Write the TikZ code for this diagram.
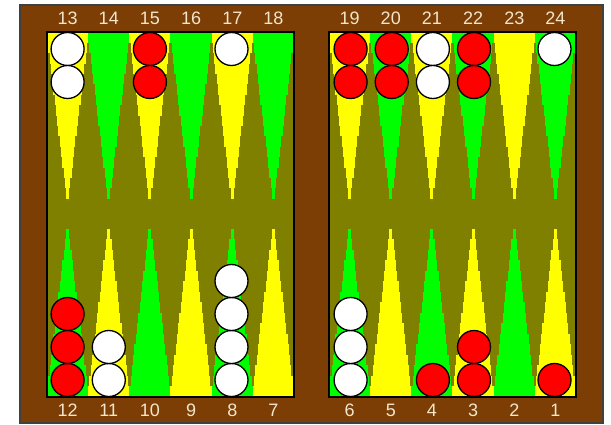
\documentclass[tikz,border=0pt]{standalone}
\usepackage{fontspec}
\setmainfont{Liberation Sans}
\definecolor{brd}{RGB}{124,62,4}
\definecolor{felt}{RGB}{128,128,0}
\definecolor{ptyel}{RGB}{255,255,0}
\definecolor{ptgrn}{RGB}{0,255,0}
\definecolor{chred}{RGB}{255,0,0}
\definecolor{lblc}{RGB}{242,230,205}
\tikzset{
  chk/.style={circle, minimum size=33pt, inner sep=0pt, draw=black, line width=1.3pt},
  wchk/.style={chk, fill=white},
  rchk/.style={chk, fill=chred},
  lbl/.style={text=lblc, font=\fontsize{18}{18}\selectfont, inner sep=0pt, anchor=center},
}
% stepped triangle: #1 centre x, #2 base y, #3 direction (+1 down, -1 up), #4 colour, #5 step height
\newcommand{\bgtri}[5]{%
  \foreach \k in {0,...,15}{%
    \pgfmathsetmacro\w{1.5+19.1*(1-\k/15)}%
    \fill[#4] ({#1-\w},{#2+#3*\k*#5}) rectangle ({#1+\w},{#2+#3*((\k+1)*#5+0.4)});
  }%
}
\begin{document}
\begin{tikzpicture}[x=1pt,y=-1pt]
\useasboundingbox (0,0) rectangle (611,424);
\fill[white] (0,0) rectangle (611,424);
% frame
\draw[fill=brd, draw=black!75, line width=1.2pt] (20,5) rectangle (603,423);
% playing areas
\fill[felt] (47,32) rectangle (294,397);
\fill[felt] (329,32) rectangle (576,397);
% triangles
\foreach \i in {0,...,5}{
  \pgfmathsetmacro\xl{47+41.17*(\i+0.5)}
  \pgfmathsetmacro\xr{329+41.17*(\i+0.5)}
  \ifodd\i
    \bgtri{\xl}{32}{1}{ptgrn}{10.4}
    \bgtri{\xr}{32}{1}{ptgrn}{10.4}
    \bgtri{\xl}{397}{-1}{ptyel}{10.5}
    \bgtri{\xr}{397}{-1}{ptyel}{10.5}
  \else
    \bgtri{\xl}{32}{1}{ptyel}{10.4}
    \bgtri{\xr}{32}{1}{ptyel}{10.4}
    \bgtri{\xl}{397}{-1}{ptgrn}{10.5}
    \bgtri{\xr}{397}{-1}{ptgrn}{10.5}
  \fi
}
\draw[black, line width=1.5pt] (47,32) rectangle (294,397);
\draw[black, line width=1.5pt] (329,32) rectangle (576,397);
% checkers, top
\node[wchk] (c13a) at (67.6,49) {};
\node[wchk] (c13b) at (67.6,82) {};
\node[rchk] (c15a) at (149.9,49) {};
\node[rchk] (c15b) at (149.9,82) {};
\node[wchk] (c17a) at (231.5,49) {};
\node[rchk] (c19a) at (350.6,49) {};
\node[rchk] (c19b) at (350.6,82) {};
\node[rchk] (c20a) at (391.7,49) {};
\node[rchk] (c20b) at (391.7,82) {};
\node[wchk] (c21a) at (432.9,49) {};
\node[wchk] (c21b) at (432.9,82) {};
\node[rchk] (c22a) at (474.0,49) {};
\node[rchk] (c22b) at (474.0,82) {};
\node[wchk] (c24a) at (554.5,49) {};
% checkers, bottom
\node[rchk] (c12a) at (67.6,380) {};
\node[rchk] (c12b) at (67.6,347) {};
\node[rchk] (c12c) at (67.6,314) {};
\node[wchk] (c11a) at (108.8,380) {};
\node[wchk] (c11b) at (108.8,347) {};
\node[wchk] (c8a) at (231.5,380) {};
\node[wchk] (c8b) at (231.5,347) {};
\node[wchk] (c8c) at (231.5,314) {};
\node[wchk] (c8d) at (231.5,281) {};
\node[wchk] (c6a) at (350.6,380) {};
\node[wchk] (c6b) at (350.6,347) {};
\node[wchk] (c6c) at (350.6,314) {};
\node[rchk] (c4a) at (432.9,380) {};
\node[rchk] (c3a) at (474.0,380) {};
\node[rchk] (c3b) at (474.0,347) {};
\node[rchk] (c1a) at (554.5,380) {};
% labels
\foreach \i/\t/\b in {0/13/12,1/14/11,2/15/10,3/16/9,4/17/8,5/18/7}{
  \pgfmathsetmacro\xl{47+41.17*(\i+0.5)}
  \node[lbl] (n\t) at (\xl,18) {\t};
  \node[lbl] (n\b) at (\xl,410) {\b};
}
\foreach \i/\t/\b in {0/19/6,1/20/5,2/21/4,3/22/3,4/23/2,5/24/1}{
  \pgfmathsetmacro\xr{329+41.17*(\i+0.5)}
  \node[lbl] (n\t) at (\xr,18) {\t};
  \node[lbl] (n\b) at (\xr,410) {\b};
}
\end{tikzpicture}
\end{document}
